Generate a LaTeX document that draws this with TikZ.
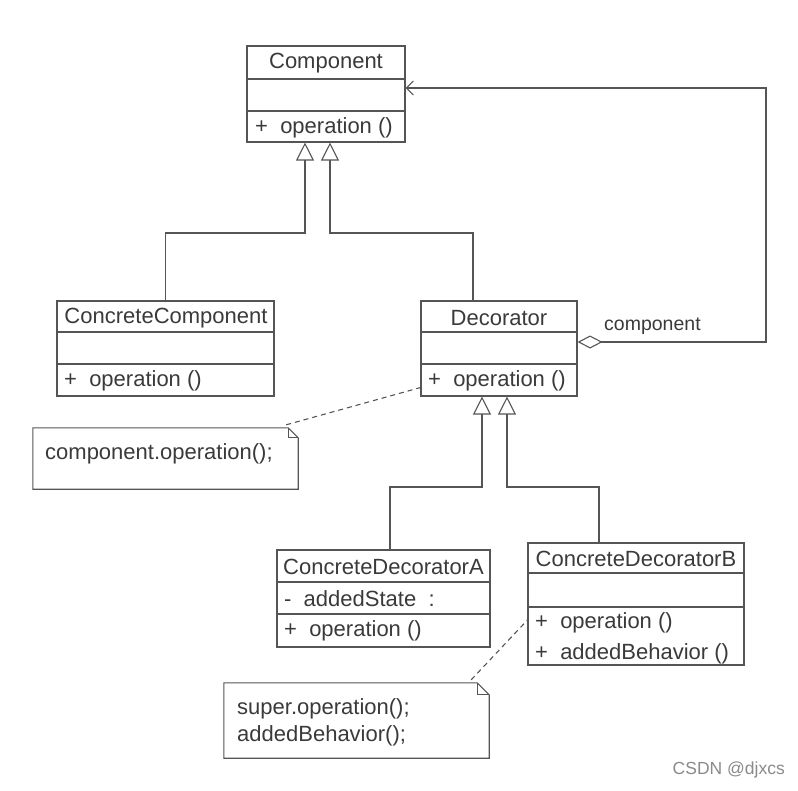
\documentclass[tikz,border=0pt]{standalone}
\usepackage{fontspec}
\setmainfont{Liberation Sans}
\usetikzlibrary{arrows.meta,calc}
\definecolor{ln}{HTML}{555555}
\definecolor{tx}{HTML}{3A3A3A}
\definecolor{wm}{HTML}{8A8A8A}
\begin{document}
\begin{tikzpicture}[x=1pt,y=-1pt,
  box/.style={draw=ln, line width=1.1pt, inner sep=0pt},
  sep/.style={draw=ln, line width=1.1pt},
  lbl/.style={text=tx, font=\fontsize{22}{27}\selectfont, inner sep=0pt},
  small/.style={text=tx, font=\fontsize{19.5}{24}\selectfont, inner sep=0pt},
  gen/.style={draw=ln, line width=1.1pt, -{Triangle[open,length=18pt,width=18pt,line width=1.1pt]}},
  agg/.style={draw=ln, line width=1.1pt, {Diamond[open,length=25pt,width=13pt,line width=1.1pt]}-{Straight Barb[length=7pt,width=14pt,line width=1.1pt]}},
  notelink/.style={draw=ln, line width=1.1pt, dash pattern=on 5pt off 4pt},
  notebox/.style={draw=none, inner sep=0pt}]
\useasboundingbox (0,0) rectangle (798,790);

% Component
\node[box, minimum width=158pt, minimum height=96pt] (comp) at (326,94) {};
\draw[sep] (247,79) -- (405,79);
\draw[sep] (247,111) -- (405,111);
\node[lbl] (compname) at (326,63) {Component};
\node[lbl, anchor=west] (compop) at (255,128) {+\ \ operation ()};

% ConcreteComponent
\node[box, minimum width=217pt, minimum height=95pt] (cc) at (165.5,348.5) {};
\draw[sep] (57,332) -- (274,332);
\draw[sep] (57,364) -- (274,364);
\node[lbl] (ccname) at (166,318) {ConcreteComponent};
\node[lbl, anchor=west] (ccop) at (64,381) {+\ \ operation ()};

% Decorator
\node[box, minimum width=156pt, minimum height=95pt] (dec) at (499,348.5) {};
\draw[sep] (421,332) -- (577,332);
\draw[sep] (421,364) -- (577,364);
\node[lbl] (decname) at (499,318) {Decorator};
\node[lbl, anchor=west] (decop) at (428,381) {+\ \ operation ()};

% ConcreteDecoratorA
\node[box, minimum width=213pt, minimum height=97pt] (cda) at (383.5,598.5) {};
\draw[sep] (277,582) -- (490,582);
\draw[sep] (277,614) -- (490,614);
\node[lbl] (cdaname) at (383.5,567) {ConcreteDecoratorA};
\node[lbl, anchor=west] (cdaattr) at (284,599) {-\ \ addedState\ \ :};
\node[lbl, anchor=west] (cdaop) at (284,631) {+\ \ operation ()};

% ConcreteDecoratorB
\node[box, minimum width=216pt, minimum height=122pt] (cdb) at (636,604) {};
\draw[sep] (528,573) -- (744,573);
\draw[sep] (528,607) -- (744,607);
\node[lbl] (cdbname) at (636,559) {ConcreteDecoratorB};
\node[lbl, anchor=west] (cdbop1) at (535,623) {+\ \ operation ()};
\node[lbl, anchor=west] (cdbop2) at (535,654) {+\ \ addedBehavior ()};

% Note 1
\node[notebox, minimum width=265pt, minimum height=61pt] (n1) at (165.5,458.5) {};
\draw[ln, line width=1.1pt] (n1.south west) -- (n1.north west) -- ($(n1.north east)+(-10,0)$) -- ($(n1.north east)+(0,10)$) -- (n1.south east) -- cycle;
\draw[ln, line width=1.1pt] ($(n1.north east)+(-10,0)$) -- ($(n1.north east)+(-10,10)$) -- ($(n1.north east)+(0,10)$);
\node[lbl, anchor=west] (n1text) at (45,454) {component.operation();};

% Note 2
\node[notebox, minimum width=265pt, minimum height=75pt] (n2) at (356.5,720.5) {};
\draw[ln, line width=1.1pt] (n2.south west) -- (n2.north west) -- ($(n2.north east)+(-12,0)$) -- ($(n2.north east)+(0,12)$) -- (n2.south east) -- cycle;
\draw[ln, line width=1.1pt] ($(n2.north east)+(-12,0)$) -- ($(n2.north east)+(-12,12)$) -- ($(n2.north east)+(0,12)$);
\node[lbl, anchor=west] (n2text1) at (237,709) {super.operation();};
\node[lbl, anchor=west] (n2text2) at (237,736) {addedBehavior();};

% Generalizations
\draw[gen] (cc.north) |- (305,233) -- ($(comp.south)+(-21,0)$);
\draw[gen] ($(dec.north)+(-26,0)$) |- (330,233) -- ($(comp.south)+(4,0)$);
\draw[gen] ($(cda.north)+(6.5,0)$) |- (482,487) -- ($(dec.south)+(-17,0)$);
\draw[gen] ($(cdb.north)+(-37,0)$) |- (507,487) -- ($(dec.south)+(8,0)$);

% Aggregation
\coordinate (rt) at (766,88);
\draw[agg] ($(dec.east)+(0,-6.5)$) -| (rt) -- ($(comp.east)+(0,-6)$);
\node[small, anchor=west] (agglbl) at (604,326) {component};

% Note links
\draw[notelink] ($(n1.north east)+(-12,-3)$) -- ($(dec.south west)+(0,-9)$);
\draw[notelink] ($(n2.north east)+(-18,-3)$) -- ($(cdb.west)+(0,16)$);

% Watermark
\node[text=wm, font=\fontsize{17.5}{21}\selectfont, anchor=east, inner sep=0pt] (wmk) at (785,770) {CSDN @djxcs};
\end{tikzpicture}
\end{document}
